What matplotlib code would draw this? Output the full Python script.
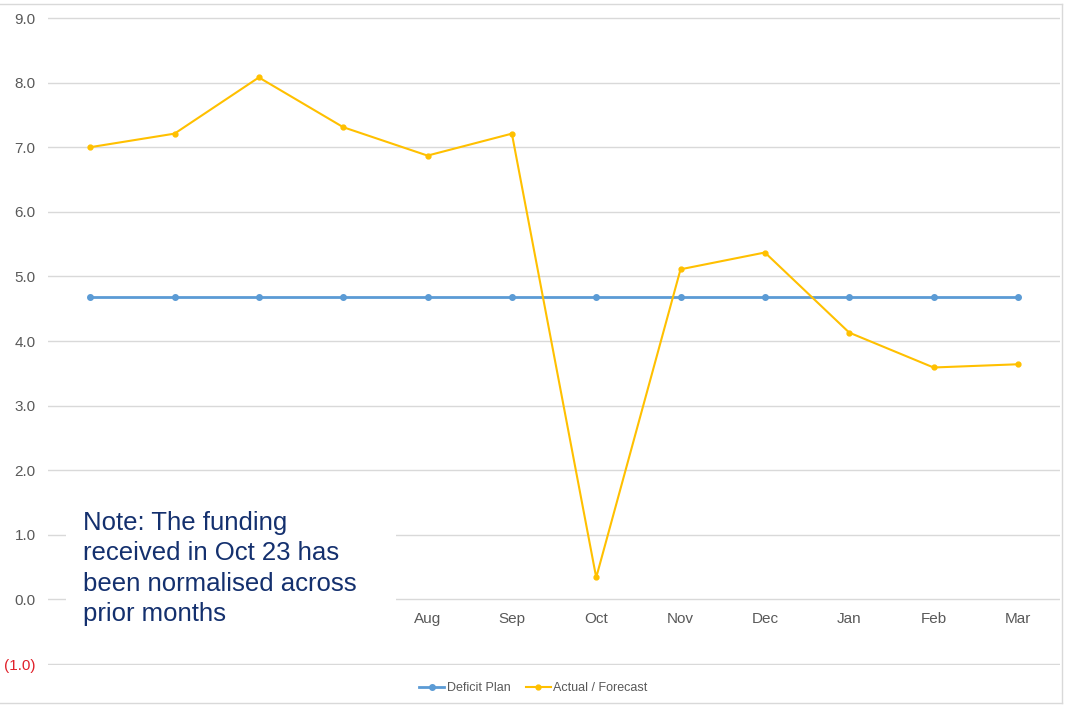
import matplotlib.pyplot as plt
from matplotlib.patches import Rectangle
from matplotlib.lines import Line2D

plt.rcParams['font.family'] = ['Liberation Sans', 'DejaVu Sans']

months = ["Apr", "May", "Jun", "Jul", "Aug", "Sep", "Oct", "Nov", "Dec", "Jan", "Feb", "Mar"]
deficit_plan = [4.68] * 12
actual_forecast = [7.0, 7.21, 8.08, 7.31, 6.87, 7.21, 0.34, 5.11, 5.37, 4.13, 3.59, 3.64]
y_ticks = [-1, 0, 1, 2, 3, 4, 5, 6, 7, 8, 9]
y_labels = ["(1.0)", "0.0", "1.0", "2.0", "3.0", "4.0", "5.0", "6.0", "7.0", "8.0", "9.0"]

note = "Note: The funding\nreceived in Oct 23 has\nbeen normalised across\nprior months"

fig = plt.figure(figsize=(10.67, 7.05), dpi=100)
ax = fig.add_axes([0.045, 0.0563, 0.9485, 0.92])

x = range(len(months))
ax.plot(x, deficit_plan, color="#5B9BD5", lw=2, marker="o", ms=4, label="Deficit Plan", zorder=3)
ax.plot(x, actual_forecast, color="#FFC000", lw=1.5, marker="o", ms=3.5, label="Actual / Forecast", zorder=3)

ax.set_xlim(-0.5, len(months) - 0.5)
ax.set_ylim(-1.02, 9.02)
ax.set_yticks(y_ticks)
ax.set_yticklabels(y_labels)
ax.grid(axis="y", color="#d9d9d9", lw=1)
ax.set_axisbelow(True)
ax.tick_params(axis="y", length=0, pad=9, labelsize=11, labelcolor="#595959")
ax.get_yticklabels()[0].set_color("#e0202a")

# month labels sit just under the zero line
ax.set_xticks(list(x))
ax.set_xticklabels(months)
ax.spines["bottom"].set_position(("data", 0))
for s in ax.spines.values():
    s.set_visible(False)
ax.tick_params(axis="x", length=0, pad=9, labelsize=11, labelcolor="#595959")
# Apr-Jul labels are under the note panel
for lbl in ax.get_xticklabels()[:4]:
    lbl.set_visible(False)

# white note panel over the lower left of the plot
box = Rectangle((66 / 1067, 1 - 640 / 705), 330 / 1067, 135 / 705,
                transform=fig.transFigure, facecolor="white", edgecolor="none", zorder=10)
ax.add_artist(box)
fig.text(83 / 1067, 1 - 511 / 705, note, fontsize=18.5, color="#14306e",
         va="top", ha="left", linespacing=1.33, zorder=11)

fig.legend(loc="center", bbox_to_anchor=(0.5, 1 - 688 / 705), ncol=2, frameon=False,
           fontsize=9, labelcolor="#595959", handlelength=2, handletextpad=0.2,
           columnspacing=1.2)

# outer chart frame: top, right and bottom edges
frame = dict(color="#d9d9d9", lw=1, transform=fig.transFigure)
fig.lines.append(Line2D([0, 0.9953], [0.9943, 0.9943], **frame))
fig.lines.append(Line2D([0.9953, 0.9953], [0.003, 0.9943], **frame))
fig.lines.append(Line2D([0, 0.9953], [0.003, 0.003], **frame))

fig.savefig("out.png", dpi=100)
